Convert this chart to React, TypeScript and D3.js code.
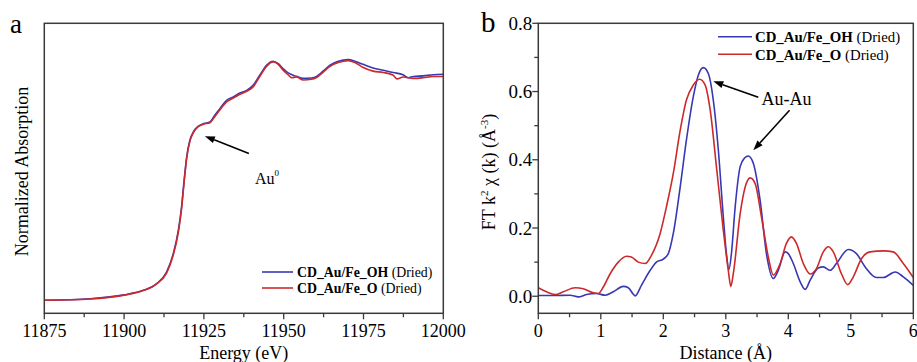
import React from "react";
import * as d3 from "d3";

// ---------- Data ----------
// Panel a: XANES, energy (eV) vs normalized absorption
const xanesEnergyOH = [11875, 11889.3, 11900, 11906, 11910.2, 11913.3, 11915.4, 11917, 11918, 11918.8, 11919.6, 11920.6, 11921.7, 11923.2, 11925, 11926.9, 11928.4, 11930, 11932.1, 11934.2, 11936.3, 11938.4, 11940.4, 11942.5, 11944.6, 11946.7, 11948.3, 11949.8, 11951.4, 11954, 11956.1, 11958.7, 11960.3, 11962.4, 11964.5, 11967.1, 11970.2, 11972.3, 11974.9, 11978, 11981.2, 11984.3, 11987.4, 11989, 11990.6, 11993.7, 11996.8, 12000];
const xanesOH = [0.0, 0.007, 0.024, 0.044, 0.074, 0.125, 0.206, 0.31, 0.413, 0.53, 0.634, 0.708, 0.745, 0.77, 0.782, 0.789, 0.819, 0.848, 0.885, 0.9, 0.917, 0.929, 0.951, 0.996, 1.04, 1.058, 1.047, 1.025, 1.006, 0.991, 0.982, 0.984, 0.991, 1.015, 1.04, 1.058, 1.065, 1.058, 1.044, 1.028, 1.018, 1.008, 0.998, 0.985, 0.99, 0.993, 0.998, 1.0];
const xanesEnergyO = [11875, 11889.3, 11900, 11906, 11910.2, 11913.3, 11915.4, 11917, 11918, 11918.8, 11919.6, 11920.6, 11921.7, 11923.2, 11925, 11926.9, 11928.4, 11930, 11932.1, 11934.2, 11936.3, 11938.4, 11940.4, 11942.5, 11944.6, 11946.7, 11948.3, 11949.8, 11951.4, 11952.5, 11954, 11956.1, 11958.7, 11960.3, 11962.4, 11964.5, 11967.1, 11970.2, 11972.3, 11974.9, 11978, 11981.2, 11984.3, 11985.5, 11987.4, 11990.6, 11993.7, 11996.8, 12000];
const xanesO = [0.0, 0.006, 0.023, 0.043, 0.073, 0.12, 0.2, 0.302, 0.405, 0.522, 0.628, 0.703, 0.742, 0.768, 0.78, 0.786, 0.812, 0.842, 0.878, 0.895, 0.912, 0.925, 0.944, 0.99, 1.035, 1.055, 1.044, 1.018, 0.998, 0.985, 0.988, 0.975, 0.978, 0.986, 1.01, 1.035, 1.052, 1.06, 1.052, 1.03, 1.014, 1.008, 0.996, 0.98, 0.988, 0.982, 0.985, 0.99, 0.99];

// Panel b: FT magnitude vs distance (Å)
const ftDistOH = [0, 0.24, 0.51, 0.64, 0.77, 0.93, 1.07, 1.2, 1.36, 1.44, 1.52, 1.55, 1.65, 1.79, 1.89, 2.0, 2.08, 2.16, 2.27, 2.37, 2.48, 2.56, 2.64, 2.72, 2.8, 2.88, 2.96, 3.01, 3.05, 3.09, 3.15, 3.23, 3.3, 3.36, 3.44, 3.55, 3.65, 3.76, 3.84, 3.95, 4.0, 4.08, 4.19, 4.27, 4.35, 4.48, 4.56, 4.67, 4.77, 4.96, 5.09, 5.23, 5.41, 5.52, 5.71, 5.84, 6.0];
const ftOH = [0.002, 0.002, 0.003, -0.002, 0.005, 0.008, 0.003, 0.013, 0.029, 0.025, 0.006, 0.001, 0.032, 0.076, 0.1, 0.109, 0.125, 0.184, 0.32, 0.458, 0.585, 0.648, 0.67, 0.653, 0.575, 0.43, 0.233, 0.125, 0.078, 0.125, 0.262, 0.38, 0.405, 0.411, 0.39, 0.28, 0.125, 0.052, 0.076, 0.13, 0.125, 0.096, 0.042, 0.02, 0.047, 0.083, 0.086, 0.076, 0.096, 0.137, 0.125, 0.086, 0.055, 0.055, 0.071, 0.057, 0.032];
const ftDistO = [0, 0.13, 0.27, 0.4, 0.59, 0.72, 0.88, 0.96, 1.04, 1.15, 1.28, 1.41, 1.49, 1.6, 1.71, 1.81, 1.95, 2.05, 2.16, 2.27, 2.37, 2.48, 2.58, 2.67, 2.75, 2.85, 2.96, 3.04, 3.08, 3.12, 3.23, 3.31, 3.39, 3.47, 3.57, 3.68, 3.76, 3.87, 3.97, 4.05, 4.13, 4.24, 4.35, 4.45, 4.56, 4.64, 4.72, 4.85, 4.95, 5.04, 5.17, 5.31, 5.52, 5.68, 5.84, 6.0];
const ftO = [0.025, 0.013, 0.005, 0.013, 0.025, 0.022, 0.01, 0.008, 0.027, 0.066, 0.1, 0.117, 0.115, 0.1, 0.096, 0.12, 0.184, 0.262, 0.36, 0.486, 0.575, 0.619, 0.636, 0.619, 0.546, 0.38, 0.194, 0.076, 0.029, 0.066, 0.242, 0.32, 0.347, 0.33, 0.233, 0.115, 0.062, 0.096, 0.155, 0.174, 0.155, 0.096, 0.065, 0.081, 0.13, 0.145, 0.13, 0.066, 0.034, 0.057, 0.11, 0.13, 0.133, 0.13, 0.096, 0.055];

const xTicksA = [11875, 11900, 11925, 11950, 11975, 12000];
const xTicksB = [0, 1, 2, 3, 4, 5, 6];
const yTicksB = [0.0, 0.2, 0.4, 0.6, 0.8];
const seriesNames = ["CD_Au/Fe_OH", "CD_Au/Fe_O"];

const BLUE = "#3838b4";
const RED = "#cc2a2a";
const AXIS = "#3a3a3a";
const FONT = "Liberation Serif, DejaVu Serif, serif";

function Arrow({ x1, y1, x2, y2 }: { x1: number; y1: number; x2: number; y2: number }) {
  const ang = Math.atan2(y2 - y1, x2 - x1);
  const L = 10, W = 3.5;
  const bx = x2 - L * Math.cos(ang), by = y2 - L * Math.sin(ang);
  const px = -Math.sin(ang) * W, py = Math.cos(ang) * W;
  return (
    <g>
      <line x1={x1} y1={y1} x2={bx} y2={by} stroke="#000" strokeWidth={1.6} />
      <polygon points={`${x2},${y2} ${bx + px},${by + py} ${bx - px},${by - py}`} fill="#000" />
    </g>
  );
}

export default function App() {
  const top = 23.3, bottom = 313.3;
  // panel a
  const ax = d3.scaleLinear().domain([11875, 12000]).range([44.3, 443.3]);
  const ay = d3.scaleLinear().domain([-0.0575, 1.2257]).range([bottom, top]);
  // panel b
  const bx = d3.scaleLinear().domain([0, 6]).range([538.3, 913.3]);
  const by = d3.scaleLinear().domain([-0.05, 0.8]).range([bottom, top]);

  const lineA = (xs: number[], ys: number[]) =>
    d3.line<number>().x((_, i) => ax(xs[i])).y((v) => ay(v)).curve(d3.curveMonotoneX)(ys) || "";
  const lineB = (xs: number[], ys: number[]) =>
    d3.line<number>().x((_, i) => bx(xs[i])).y((v) => by(v)).curve(d3.curveMonotoneX)(ys) || "";

  const minorA = d3.range(11875, 12000.1, 12.5);
  const minorBx = d3.range(0, 6.01, 0.5);
  const minorBy = d3.range(0, 0.801, 0.1);
  const ts = { fontFamily: FONT };

  return (
    <svg width={917} height={362} style={{ position: "absolute", left: 0, top: 0, background: "#fff", fontFamily: FONT }}>
      <defs>
        <clipPath id="ca"><rect x={ax(11875)} y={top} width={ax(12000) - ax(11875)} height={bottom - top} /></clipPath>
        <clipPath id="cb"><rect x={bx(0)} y={top} width={bx(6) - bx(0)} height={bottom - top} /></clipPath>
      </defs>

      {/* ---------- Panel a ---------- */}
      <text style={ts} x={10} y={33} fontSize={27}>a</text>
      <g clipPath="url(#ca)">
        <path d={lineA(xanesEnergyOH, xanesOH)} fill="none" stroke={BLUE} strokeWidth={1.6} />
        <path d={lineA(xanesEnergyO, xanesO)} fill="none" stroke={RED} strokeWidth={1.6} />
      </g>
      <rect x={ax(11875)} y={top} width={ax(12000) - ax(11875)} height={bottom - top} fill="none" stroke={AXIS} strokeWidth={1.5} />
      {minorA.map((t) => {
        const major = xTicksA.includes(t);
        return <line key={t} x1={ax(t)} x2={ax(t)} y1={bottom} y2={bottom + (major ? 6 : 4)} stroke={AXIS} strokeWidth={1.3} />;
      })}
      {xTicksA.map((t) => (
        <text style={ts} key={t} x={ax(t)} y={337} fontSize={18} textAnchor="middle">{t}</text>
      ))}
      <text style={ts} x={ax(11937.5)} y={358.5} fontSize={18} textAnchor="middle">Energy (eV)</text>
      <text style={ts} transform={`translate(28,${171.5}) rotate(-90)`} fontSize={18} textAnchor="middle">Normalized Absorption</text>
      {/* annotation */}
      <Arrow x1={ax(11939.1)} y1={ay(0.65)} x2={ax(11925.3)} y2={ay(0.726)} />
      <text style={ts} x={255} y={184} fontSize={16}>Au<tspan dy={-8} fontSize={9}>0</tspan></text>
      {/* legend a */}
      {seriesNames.map((n, i) => (
        <g key={n}>
          <line x1={262} x2={293} y1={272 + i * 16} y2={272 + i * 16} stroke={i === 0 ? BLUE : RED} strokeWidth={1.6} />
          <text style={ts} x={297} y={277 + i * 16} fontSize={13.8}>
            <tspan fontWeight="bold">{n}</tspan> (Dried)
          </text>
        </g>
      ))}

      {/* ---------- Panel b ---------- */}
      <text style={ts} x={481} y={32} fontSize={29}>b</text>
      <g clipPath="url(#cb)">
        <path d={lineB(ftDistOH, ftOH)} fill="none" stroke={BLUE} strokeWidth={1.6} />
        <path d={lineB(ftDistO, ftO)} fill="none" stroke={RED} strokeWidth={1.6} />
      </g>
      <rect x={bx(0)} y={top} width={bx(6) - bx(0)} height={bottom - top} fill="none" stroke={AXIS} strokeWidth={1.5} />
      {minorBx.map((t) => {
        const major = Math.abs(t - Math.round(t)) < 1e-6;
        return <line key={t} x1={bx(t)} x2={bx(t)} y1={bottom} y2={bottom + (major ? 6 : 4)} stroke={AXIS} strokeWidth={1.3} />;
      })}
      {minorBy.map((t, i) => {
        const major = i % 2 === 0;
        return <line key={t} x1={bx(0)} x2={bx(0) - (major ? 6 : 4)} y1={by(t)} y2={by(t)} stroke={AXIS} strokeWidth={1.3} />;
      })}
      {xTicksB.map((t) => (
        <text style={ts} key={t} x={bx(t)} y={337} fontSize={18} textAnchor="middle">{t}</text>
      ))}
      {yTicksB.map((t) => (
        <text style={ts} key={t} x={bx(0) - 6} y={by(t) + 6.5} fontSize={19} textAnchor="end">{t.toFixed(1)}</text>
      ))}
      <text style={ts} x={bx(3)} y={358.5} fontSize={18} textAnchor="middle">Distance (Å)</text>
      <text style={ts} transform={`translate(495,${172}) rotate(-90)`} fontSize={18} textAnchor="middle">
        FT k<tspan dy={-7} fontSize={11}>2</tspan><tspan dy={7}> χ (k) (Å</tspan><tspan dy={-7} fontSize={11}>-3</tspan><tspan dy={7}>)</tspan>
      </text>
      {/* annotations */}
      <Arrow x1={bx(3.52)} y1={by(0.583)} x2={bx(2.8)} y2={by(0.63)} />
      <Arrow x1={bx(4.02)} y1={by(0.545)} x2={bx(3.44)} y2={by(0.428)} />
      <text style={ts} x={761.5} y={105} fontSize={18}>Au-Au</text>
      {/* legend b */}
      {seriesNames.map((n, i) => (
        <g key={n}>
          <line x1={718} x2={752} y1={36.7 + i * 17.6} y2={36.7 + i * 17.6} stroke={i === 0 ? BLUE : RED} strokeWidth={1.6} />
          <text style={ts} x={755} y={42 + i * 17.6} fontSize={14.8}>
            <tspan fontWeight="bold">{n}</tspan> (Dried)
          </text>
        </g>
      ))}
    </svg>
  );
}
